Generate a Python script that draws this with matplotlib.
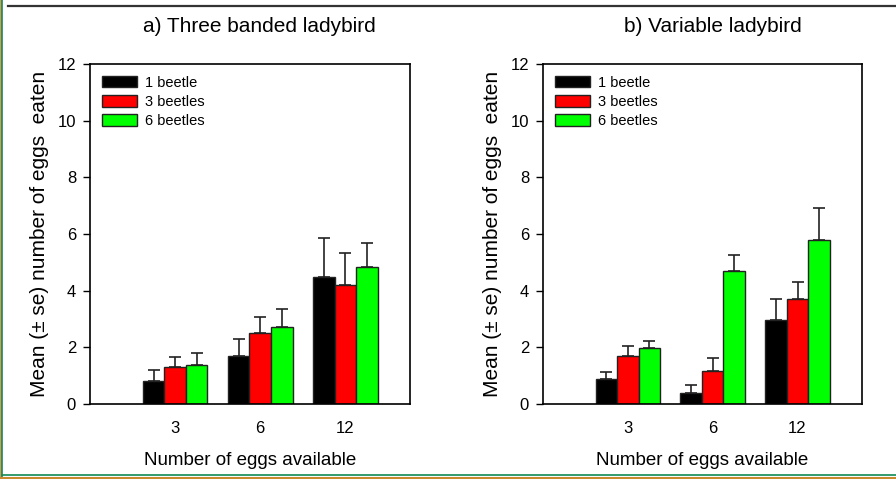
import numpy as np
import matplotlib
matplotlib.use('Agg')
import matplotlib.pyplot as plt
from matplotlib.lines import Line2D

plt.rcParams['font.family'] = ['Liberation Sans', 'DejaVu Sans']

## data
eggs = ['3', '6', '12']
beetles = ['1 beetle', '3 beetles', '6 beetles']
colors = ['#000000', '#ff0000', '#00ff00']

three_banded_mean = {
    '1 beetle': [0.80, 1.70, 4.50],
    '3 beetles': [1.31, 2.49, 4.21],
    '6 beetles': [1.38, 2.73, 4.82],
}
three_banded_se = {
    '1 beetle': [0.40, 0.58, 1.36],
    '3 beetles': [0.36, 0.59, 1.12],
    '6 beetles': [0.41, 0.62, 0.85],
}
variable_mean = {
    '1 beetle': [0.88, 0.39, 2.98],
    '3 beetles': [1.69, 1.18, 3.69],
    '6 beetles': [1.99, 4.69, 5.78],
}
variable_se = {
    '1 beetle': [0.24, 0.27, 0.74],
    '3 beetles': [0.34, 0.44, 0.62],
    '6 beetles': [0.25, 0.56, 1.14],
}

titles = ['a) Three banded ladybird', 'b) Variable ladybird']
ylabel = 'Mean (\u00b1 se) number of eggs  eaten'
xlabel = 'Number of eggs available'

## figure
fig = plt.figure(figsize=(8.96, 4.79), dpi=100)
ax1 = fig.add_axes([90/896, 1-404/479, 320/896, 340/479])
ax2 = fig.add_axes([543/896, 1-404/479, 319/896, 340/479])

x = np.arange(1, len(eggs) + 1)
w = 0.253

for ax, means, ses, title, tx in [(ax1, three_banded_mean, three_banded_se, titles[0], 259),
                                  (ax2, variable_mean, variable_se, titles[1], 713)]:
    for i, b in enumerate(beetles):
        m = np.array(means[b])
        e = np.array(ses[b])
        ax.bar(x + (i - 1) * w, m, w, color=colors[i], edgecolor='#222222',
               linewidth=1.0, label=b,
               yerr=[np.zeros_like(e), e], capsize=4.6,
               error_kw=dict(ecolor='#222222', elinewidth=1.2, capthick=1.2))
    ax.set_xlim(0, 3.76)
    ax.set_ylim(0, 12)
    ax.set_yticks([0, 2, 4, 6, 8, 10, 12])
    ax.set_xticks(x)
    ax.set_xticklabels(eggs)
    ax.tick_params(axis='y', length=5, width=1, labelsize=12, pad=5, direction='out')
    ax.tick_params(axis='x', length=0, labelsize=12, pad=12)
    for sp in ax.spines.values():
        sp.set_linewidth(1.2)
    ax.set_ylabel(ylabel, fontsize=15, labelpad=6)
    ax.set_xlabel(xlabel, fontsize=13.5, labelpad=12)
    fig.text(tx / 896, 1 - 26 / 479, title, ha='center', va='center', fontsize=15)
    ax.legend(loc='upper left', frameon=False, fontsize=10.5,
              handlelength=2.45, handleheight=0.85, handletextpad=0.5,
              labelspacing=0.35, borderaxespad=0.6, borderpad=0.2)

## page decorations
fig.add_artist(Line2D([8/896, 1], [1-5.5/479, 1-5.5/479], color='#333333', lw=1.6))
fig.add_artist(Line2D([0.6/896, 0.6/896], [0, 1], color='#c98a2e', lw=1.2))
fig.add_artist(Line2D([2.2/896, 2.2/896], [1.5/479, 1], color='#108a55', lw=1.2))
fig.add_artist(Line2D([0, 1], [1.5/479, 1.5/479], color='#c98a2e', lw=2.2))
fig.add_artist(Line2D([2/896, 1], [4/479, 4/479], color='#108a55', lw=1.2))

plt.savefig('out.png', dpi=100)
